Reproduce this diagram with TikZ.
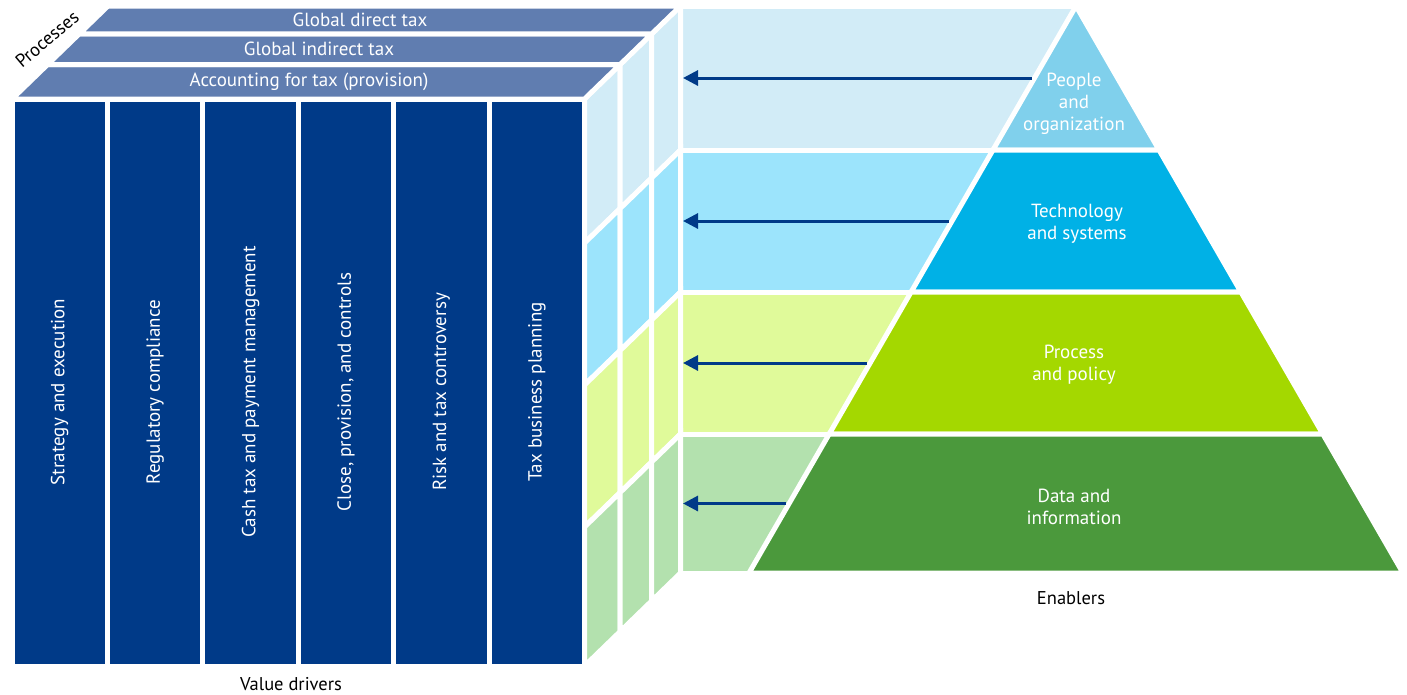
\documentclass[tikz,border=0pt]{standalone}
\usepackage{fontspec}
\setmainfont{PT Sans}
\usetikzlibrary{arrows.meta}
\definecolor{frontblue}{RGB}{0,58,136}
\definecolor{barblue}{RGB}{96,125,176}
\definecolor{rowa}{RGB}{210,236,247}
\definecolor{rowb}{RGB}{156,228,252}
\definecolor{rowc}{RGB}{224,250,154}
\definecolor{rowd}{RGB}{179,225,174}
\definecolor{pyra}{RGB}{128,208,236}
\definecolor{pyrb}{RGB}{0,177,230}
\definecolor{pyrc}{RGB}{164,216,0}
\definecolor{pyrd}{RGB}{75,153,60}
\begin{document}
\begin{tikzpicture}[x=1pt,y=-1pt,
  face/.style={draw=white,line width=5pt,line join=miter},
  lbl/.style={text=white,font=\fontsize{19}{22}\selectfont,align=center,inner sep=0pt},
  blk/.style={text=black,font=\fontsize{18.5}{22}\selectfont,align=center,inner sep=0pt},
  arr/.style={draw=frontblue,line width=3pt,-{Triangle[length=15pt,width=15pt]}}]
\useasboundingbox (0,0) rectangle (1407,694);
% back wall rows
\filldraw[face,fill=rowa] (680.5,6) rectangle (1076,150);
\filldraw[face,fill=rowb] (680.5,150) rectangle (1076,292);
\filldraw[face,fill=rowc] (680.5,292) rectangle (1076,434);
\filldraw[face,fill=rowd] (680.5,434) rectangle (1076,573);
% side face
\foreach \t/\b/\c in {6/150/rowa,150/292/rowb,292/434/rowc,434/573/rowd}{
  \foreach \fa/\fb in {0/0.371,0.371/0.699,0.699/1}{
    \filldraw[face,fill=\c] ({584.5+96*\fa},{\t+93-93*\fa}) -- ({584.5+96*\fb},{\t+93-93*\fb})
      -- ({584.5+96*\fb},{\b+93-93*\fb}) -- ({584.5+96*\fa},{\b+93-93*\fa}) -- cycle;
  }}
% top bars
\foreach \fa/\fb in {0/0.371,0.371/0.699,0.699/1}{
  \filldraw[face,fill=barblue] ({12+96*\fa},{99-93*\fa}) -- ({584.5+96*\fa},{99-93*\fa})
    -- ({584.5+96*\fb},{99-93*\fb}) -- ({12+96*\fb},{99-93*\fb}) -- cycle;
}
\node[lbl] (direct) at (360,20) {Global direct tax};
\node[lbl] (indirect) at (319,49) {Global indirect tax};
\node[lbl] (acct) at (309,82) {Accounting for tax (provision)};
% front columns
\foreach \j/\txt in {0/Strategy and execution,1/Regulatory compliance,2/Cash tax and payment management,3/{Close, provision, and controls},4/Risk and tax controversy,5/Tax business planning}{
  \filldraw[face,fill=frontblue] ({12+95.4167*\j},99) rectangle ({12+95.4167*(\j+1)},666);
  \node[lbl,rotate=90] (col\j) at ({12+95.4167*(\j+0.5)},392) {\txt};
}
% pyramid
\filldraw[face,fill=pyra] (1076,6) -- ({1076+83.05},150) -- ({1076-83.05},150) -- cycle;
\filldraw[face,fill=pyrb] ({1076-83.05},150) -- ({1076+83.05},150) -- ({1076+164.9},292) -- ({1076-164.9},292) -- cycle;
\filldraw[face,fill=pyrc] ({1076-164.9},292) -- ({1076+164.9},292) -- ({1076+246.8},434) -- ({1076-246.8},434) -- cycle;
\filldraw[face,fill=pyrd] ({1076-246.8},434) -- ({1076+246.8},434) -- ({1076+327},573) -- ({1076-327},573) -- cycle;
\node[lbl] (people) at (1074,104) {People\\and\\organization};
\node[lbl] (tech) at (1077,224) {Technology\\and systems};
\node[lbl] (proc) at (1074,365) {Process\\and policy};
\node[lbl] (data) at (1074,507) {Data and\\information};
% arrows
\coordinate (s1) at (1031.5,78);   \coordinate (e1) at (683,78);
\coordinate (s2) at (949,221);     \coordinate (e2) at (683,221);
\coordinate (s3) at (867,363);     \coordinate (e3) at (683,363);
\coordinate (s4) at (786,503.5);   \coordinate (e4) at (683,503.5);
\draw[arr] (s1) -- (e1);
\draw[arr] (s2) -- (e2);
\draw[arr] (s3) -- (e3);
\draw[arr] (s4) -- (e4);
% captions
\node[blk,rotate=40] (processes) at (47,39) {Processes};
\node[blk] (values) at (291,684) {Value drivers};
\node[blk] (enablers) at (1071,598) {Enablers};
\end{tikzpicture}
\end{document}
